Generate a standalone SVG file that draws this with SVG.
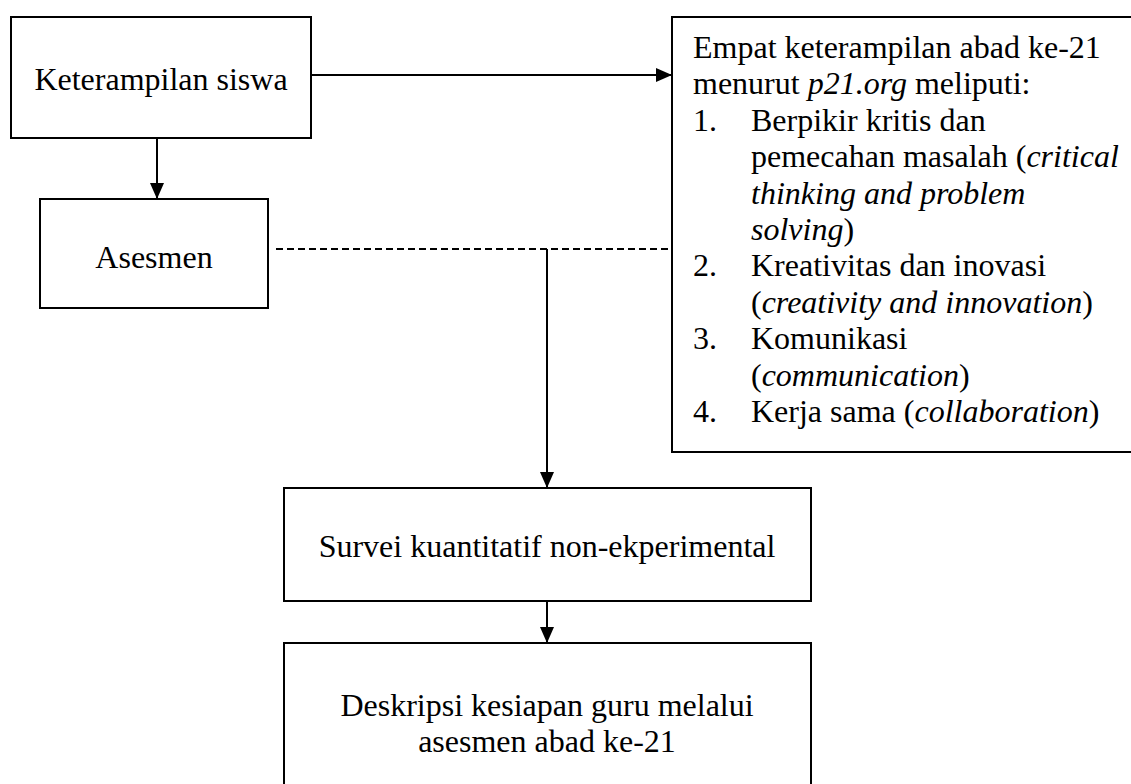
<svg xmlns="http://www.w3.org/2000/svg" width="1131" height="784" viewBox="0 0 1131 784">
<style>
  .box { fill: #ffffff; stroke: #000000; stroke-width: 2; }
  .t { font-family: "Liberation Serif", "Times New Roman", serif; font-size: 32px; fill: #000000; }
  .c { text-anchor: middle; }
  .i { font-style: italic; }
  .ln { stroke: #000000; stroke-width: 2; fill: none; }
  .dash { stroke: #000000; stroke-width: 2; fill: none; stroke-dasharray: 7 4; }
</style>
<defs>
  <marker id="arr" markerWidth="16" markerHeight="14" refX="16" refY="7" orient="auto" markerUnits="userSpaceOnUse">
    <path d="M0,0 L16,7 L0,14 Z" fill="#000000"/>
  </marker>
</defs>
<rect x="0" y="0" width="1131" height="784" fill="#ffffff"/>

<g id="connectors">
  <line class="ln" x1="311" y1="75" x2="672" y2="75" marker-end="url(#arr)"/>
  <line class="ln" x1="157" y1="138" x2="157" y2="199" marker-end="url(#arr)"/>
  <line class="dash" x1="276" y1="249" x2="672" y2="249"/>
  <line class="ln" x1="547" y1="249" x2="547" y2="488" marker-end="url(#arr)"/>
  <line class="ln" x1="547" y1="601" x2="547" y2="643" marker-end="url(#arr)"/>
</g>

<g id="node-keterampilan">
  <rect class="box" x="11" y="17" width="300" height="121"/>
  <text class="t c" x="161" y="90">Keterampilan siswa</text>
</g>

<g id="node-asesmen">
  <rect class="box" x="40" y="199" width="228" height="109"/>
  <text class="t c" x="154" y="268">Asesmen</text>
</g>

<g id="node-empat">
  <rect class="box" x="672" y="17" width="462" height="435"/>
  <text class="t" x="693" y="58">Empat keterampilan abad ke-21</text>
  <text class="t" x="693" y="94">menurut <tspan class="i">p21.org</tspan> meliputi:</text>
  <text class="t" x="693" y="131">1.</text>
  <text class="t" x="751" y="131">Berpikir kritis dan</text>
  <text class="t" x="751" y="167">pemecahan masalah (<tspan class="i">critical</tspan></text>
  <text class="t i" x="751" y="204">thinking and problem</text>
  <text class="t" x="751" y="240"><tspan class="i">solving</tspan>)</text>
  <text class="t" x="693" y="276">2.</text>
  <text class="t" x="751" y="276">Kreativitas dan inovasi</text>
  <text class="t" x="751" y="313">(<tspan class="i">creativity and innovation</tspan>)</text>
  <text class="t" x="693" y="349">3.</text>
  <text class="t" x="751" y="349">Komunikasi</text>
  <text class="t" x="751" y="386">(<tspan class="i">communication</tspan>)</text>
  <text class="t" x="693" y="422">4.</text>
  <text class="t" x="751" y="422">Kerja sama (<tspan class="i">collaboration</tspan>)</text>
</g>

<g id="node-survei">
  <rect class="box" x="284" y="488" width="527" height="113"/>
  <text class="t c" x="547" y="557">Survei kuantitatif non-ekperimental</text>
</g>

<g id="node-deskripsi">
  <rect class="box" x="284" y="643" width="527" height="160"/>
  <text class="t c" x="547" y="716">Deskripsi kesiapan guru melalui</text>
  <text class="t c" x="547" y="752">asesmen abad ke-21</text>
</g>
</svg>
